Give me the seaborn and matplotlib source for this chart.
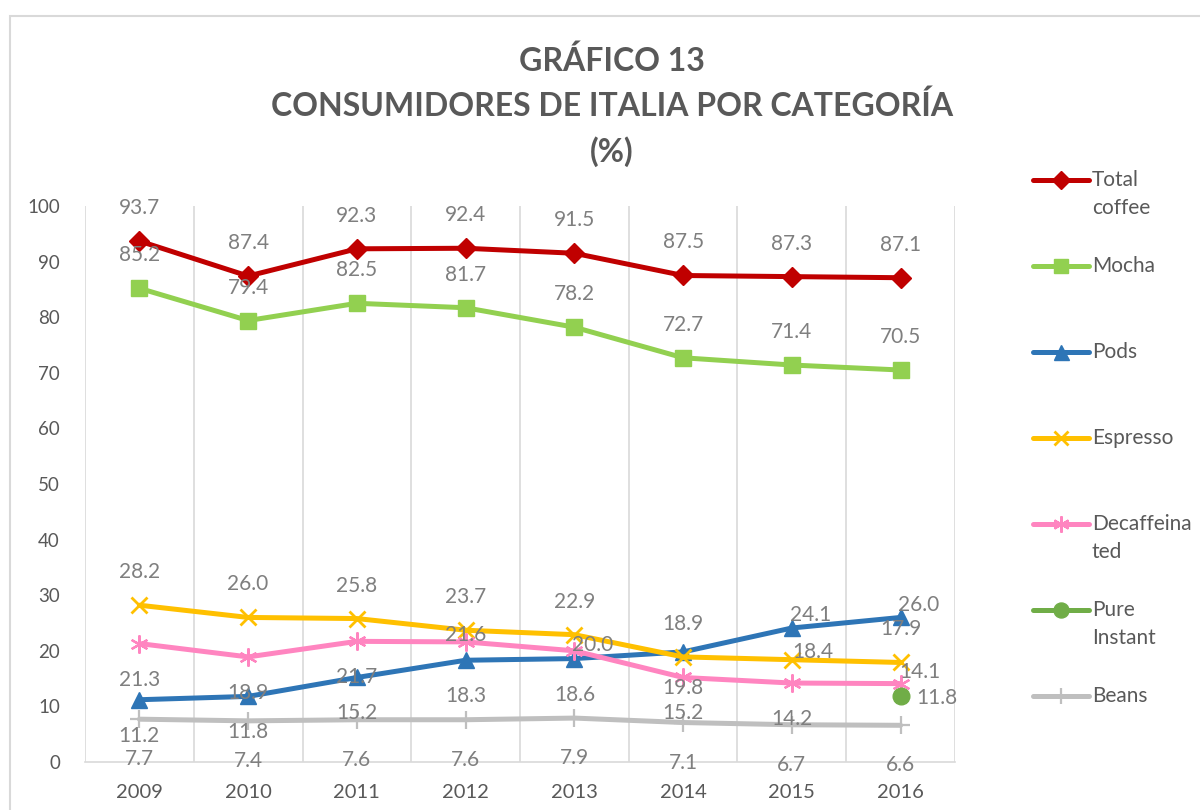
import numpy as np
import matplotlib
matplotlib.use("Agg")
import matplotlib.pyplot as plt
from matplotlib.lines import Line2D
from matplotlib.patches import Rectangle
import seaborn as sns

years = ['2009', '2010', '2011', '2012', '2013', '2014', '2015', '2016']
total_coffee = [93.7, 87.4, 92.3, 92.4, 91.5, 87.5, 87.3, 87.1]
mocha = [85.2, 79.4, 82.5, 81.7, 78.2, 72.7, 71.4, 70.5]
pods = [11.2, 11.8, 15.2, 18.3, 18.6, 19.8, 24.1, 26.0]
espresso = [28.2, 26.0, 25.8, 23.7, 22.9, 18.9, 18.4, 17.9]
decaf = [21.3, 18.9, 21.7, 21.6, 20.0, 15.2, 14.2, 14.1]
pure_instant = [np.nan, np.nan, np.nan, np.nan, np.nan, np.nan, np.nan, 11.8]
beans = [7.7, 7.4, 7.6, 7.6, 7.9, 7.1, 6.7, 6.6]

series_names = ['Total\ncoffee', 'Mocha', 'Pods', 'Espresso', 'Decaffeina\nted', 'Pure\nInstant', 'Beans']
series_values = [total_coffee, mocha, pods, espresso, decaf, pure_instant, beans]

# estilo de cada serie (color, marcador, tamaño, grosor del borde)
styles = [
    ('#C00000', 'D', 10, 1),
    ('#92D050', 's', 11, 1),
    ('#2E75B6', '^', 12, 1),
    ('#FFC000', 'x', 11, 2),
    ('#FF85C0', (6, 2, 0), 13, 1.6),
    ('#70AD47', 'o', 12, 1),
    ('#BFBFBF', '+', 13, 1.6),
]

# posicion de las etiquetas de datos (pixeles respecto al punto)
up, down = (0, 33), (0, -36)
label_offsets = [
    [up] * 8,
    [up] * 8,
    [down] * 6 + [(19, 13), (18, 12)],
    [up] * 6 + [(21, 8), up],
    [down] * 3 + [(0, 7), (18, 6), down, down, (19, 12)],
    [(0, 0)] * 7 + [(36, -2)],
    [(0, -40)] * 8,
]

sns.set_style('white')
plt.rcParams['font.family'] = ['Lato', 'DejaVu Sans']

fig = plt.figure(figsize=(12, 8.1), dpi=100)
ax = fig.add_axes([85 / 1200, 1 - 762 / 810, 870 / 1200, 556 / 810])

x = np.arange(len(years))
for name, vals, (color, marker, ms, mew), offs in zip(series_names, series_values, styles, label_offsets):
    sns.lineplot(x=x, y=vals, ax=ax, color=color, linewidth=3.6, marker=marker,
                 markersize=ms, markeredgecolor=color, markeredgewidth=mew,
                 markerfacecolor=color, label=name, legend=False)
    for xi, v, (dx, dy) in zip(x, vals, offs):
        if np.isnan(v):
            continue
        ax.annotate(f'{v:.1f}', (xi, v), xytext=(dx, dy), textcoords='offset pixels',
                    ha='center', va='center', fontsize=15, color='#7F7F7F', zorder=10)

ax.set_xlim(-0.5, len(years) - 0.5)
ax.set_ylim(0, 100)
ax.set_yticks(range(0, 101, 10))
ax.set_xticks(x)
ax.set_xticklabels(years)
for xv in np.arange(-0.5, len(years), 1):
    ax.axvline(xv, color='#D9D9D9', linewidth=1.2, zorder=0)
for s in ['top', 'right', 'left']:
    ax.spines[s].set_visible(False)
ax.spines['bottom'].set_color('#D9D9D9')
ax.spines['bottom'].set_linewidth(1.2)
ax.tick_params(axis='y', length=0, pad=18, labelsize=13.5, labelcolor='#595959')
ax.tick_params(axis='x', length=0, pad=16, labelsize=14.5, labelcolor='#595959')
ax.set_xlabel('')
ax.set_ylabel('')

fig.text(612 / 1200, 1 - 106 / 810, 'GRÁFICO 13\nCONSUMIDORES DE ITALIA POR CATEGORÍA\n(%)',
         ha='center', va='center', fontsize=23, fontweight='bold', color='#595959', linespacing=1.58)

# leyenda a la derecha
leg_y = [180, 266, 352, 438, 524, 610, 696]
for name, (color, marker, ms, mew), yp in zip(series_names, styles, leg_y):
    yf = 1 - yp / 810
    fig.add_artist(Line2D([1033 / 1200, 1061 / 1200, 1089 / 1200], [yf, yf, yf],
                          transform=fig.transFigure, color=color, linewidth=3.6,
                          solid_capstyle='round', marker=marker, markevery=[1],
                          markersize=ms * 0.9, markeredgecolor=color,
                          markerfacecolor=color, markeredgewidth=mew))
    fig.text(1092 / 1200, 1 - (yp - 10) / 810, name, ha='left', va='top', fontsize=15,
             color='#595959', linespacing=1.5)

fig.add_artist(Rectangle((10 / 1200, -0.1), 1.2, 1.1 - 16 / 810, transform=fig.transFigure,
                         fill=False, edgecolor='#D9D9D9', linewidth=1.5))

fig.savefig('out.png', dpi=100)
